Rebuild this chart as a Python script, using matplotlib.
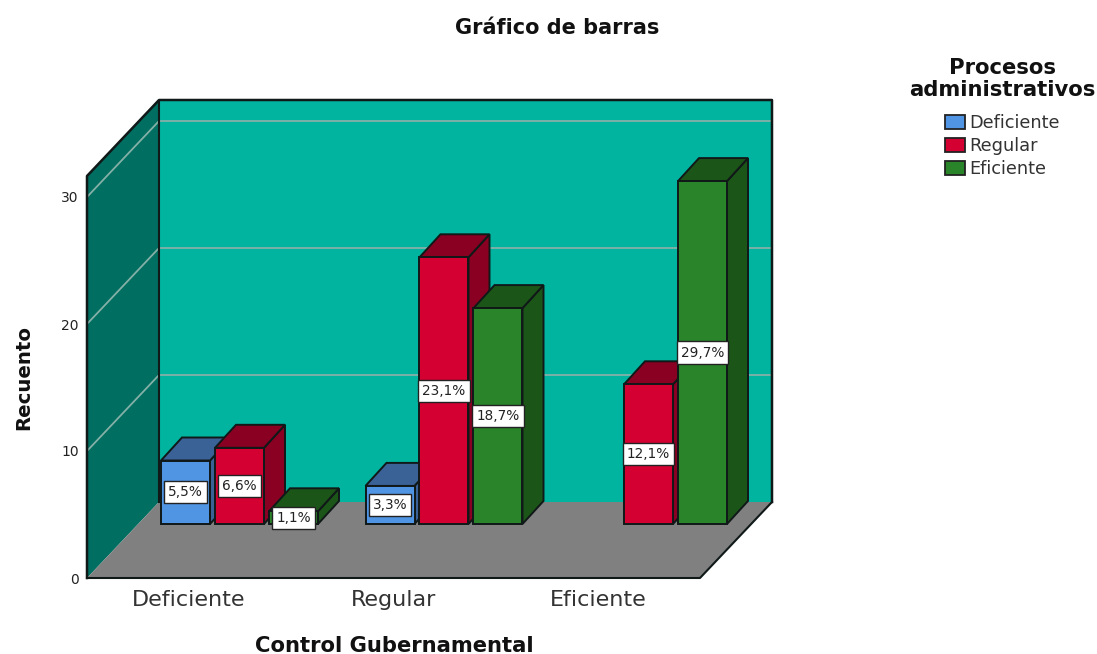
import matplotlib
matplotlib.use("Agg")
import matplotlib.pyplot as plt
from matplotlib.patches import Patch

plt.rcParams['font.family'] = ['DejaVu Sans']

categories = ['Deficiente', 'Regular', 'Eficiente']
series_names = ['Deficiente', 'Regular', 'Eficiente']
deficiente_counts = [5, 3, 0]
regular_counts = [6, 21, 11]
eficiente_counts = [1, 17, 27]
deficiente_labels = ['5,5%', '3,3%', '']
regular_labels = ['6,6%', '23,1%', '12,1%']
eficiente_labels = ['1,1%', '18,7%', '29,7%']
y_ticks = [0, 10, 20, 30]

W, H = 1097, 654
PX_X = 204.5   # px per category
PX_Y = 12.7    # px per count
fig = plt.figure(figsize=(W/100, H/100), dpi=100, facecolor='white')
L, R, T, B = 87, 772, 100, 578
ax = fig.add_axes([L/W, 1-B/H, (R-L)/W, (B-T)/H])
ax.set_xlim(-(189-L)/PX_X, (R-189)/PX_X)
ax.set_ylim(0, (B-T)/PX_Y)
ax.patch.set_visible(False)
for s in ax.spines.values():
    s.set_visible(False)

def ux(p): return p/PX_X
def uy(p): return p/PX_Y

x0, x1 = ax.get_xlim()
ytop = ax.get_ylim()[1]
wall_dx, wall_dy = ux(72), uy(76)
wall_h = ytop - wall_dy
WALL_BACK, WALL_SIDE, FLOOR = '#00B4A0', '#006E60', '#808080'
GRID = '#84B0A7'
edge = '#101818'

# back wall, side wall, floor
ax.fill([x0+wall_dx, x1, x1, x0+wall_dx], [wall_dy, wall_dy, ytop, ytop], color=WALL_BACK, lw=0, zorder=1)
ax.fill([x0, x0+wall_dx, x0+wall_dx, x0], [0, wall_dy, ytop, wall_h], color=WALL_SIDE, lw=0, zorder=1)
ax.fill([x0, x1-wall_dx, x1, x0+wall_dx], [0, 0, wall_dy, wall_dy], color=FLOOR, lw=0, zorder=1.1)

# gridlines
for v in y_ticks[1:]:
    ax.plot([x0, x0+wall_dx, x1], [v, v+wall_dy, v+wall_dy], color=GRID, lw=1.3, zorder=1.2, solid_joinstyle='miter')

# frame lines
ax.plot([x0, x0, x0+wall_dx, x1, x1], [0, wall_h, ytop, ytop, wall_dy], color=edge, lw=1.8, zorder=1.3, clip_on=False)
ax.plot([x0+wall_dx, x0+wall_dx], [wall_dy, ytop], color=edge, lw=1.5, zorder=1.3)
ax.plot([x1, x1-wall_dx, x0], [wall_dy, 0, 0], color=edge, lw=1.5, zorder=1.3, clip_on=False)

series = [
    (deficiente_counts, deficiente_labels, '#5094E4', '#3A6296'),
    (regular_counts, regular_labels, '#D50032', '#8A0022'),
    (eficiente_counts, eficiente_labels, '#2A842A', '#1C5518'),
]
bar_w = ux(49)
step = ux(54)
first = ux(-28)
base = uy(54)
dx, dy = ux(21), uy(23)

z = 2
for c in range(len(categories)):
    for s, (counts, labels, col, dark) in enumerate(series):
        v = counts[c]
        if v == 0:
            continue
        xl = c + first + s*step
        xr = xl + bar_w
        top = base + v
        ax.fill([xr, xr+dx, xr+dx, xr], [base, base+dy, top+dy, top], facecolor=dark, edgecolor=edge, lw=1.4, zorder=z)
        ax.fill([xl, xr, xr+dx, xl+dx], [top, top, top+dy, top+dy], facecolor=dark, edgecolor=edge, lw=1.4, zorder=z)
        ax.bar(xl, v, width=bar_w, bottom=base, align='edge', color=col, edgecolor=edge, lw=1.4, zorder=z+0.1)
        z += 0.2
for c in range(len(categories)):
    for s, (counts, labels, col, dark) in enumerate(series):
        if counts[c] == 0:
            continue
        xc = c + first + s*step + bar_w/2
        ax.text(xc, base + counts[c]/2, labels[c], ha='center', va='center', fontsize=9.8, color='#222222', zorder=20,
                bbox=dict(boxstyle='square,pad=0.3', facecolor='white', edgecolor='#222222', lw=1))

ax.set_yticks(y_ticks)
ax.set_xticks(range(len(categories)))
ax.set_xticklabels(categories, fontsize=16, color='#333333')
ax.tick_params(axis='y', length=0, pad=6, labelsize=10, labelcolor='#222222')
ax.tick_params(axis='x', length=0, pad=9)

fig.text(557/W, 1-28/H, 'Gráfico de barras', ha='center', va='center', fontsize=15, fontweight='bold', color='#111111')
fig.text(24/W, 1-378/H, 'Recuento', ha='center', va='center', rotation=90, fontsize=14.2, fontweight='bold', color='#111111')
fig.text(394/W, 1-646/H, 'Control Gubernamental', ha='center', va='center', fontsize=15.2, fontweight='bold', color='#111111')

handles = [Patch(facecolor=sv[2], edgecolor='#222222', lw=1.3, label=n) for sv, n in zip(series, series_names)]
leg = fig.legend(handles=handles, title='Procesos\nadministrativos', loc='upper right',
                 bbox_to_anchor=(1095.5/W, 1-58/H), frameon=False, fontsize=12.8,
                 title_fontproperties={'weight': 'bold', 'size': 15.2},
                 handlelength=1.15, handleheight=0.9, handletextpad=0.25, labelspacing=0.28,
                 borderpad=0, borderaxespad=0, alignment='center')
leg._legend_box.sep = 10.5
leg.get_title().set_linespacing(1.1)
leg.get_title().set_multialignment('center')
leg.get_title().set_color('#111111')
for t in leg.get_texts():
    t.set_color('#333333')

fig.savefig('out.png', dpi=100)
